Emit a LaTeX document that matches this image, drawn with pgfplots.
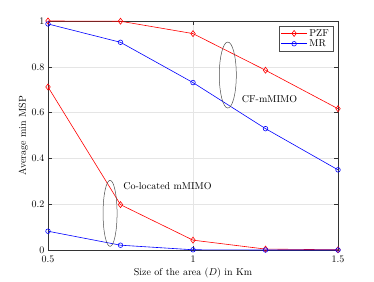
\documentclass[border=0pt]{standalone}
\usepackage{pgfplots}
\pgfplotsset{compat=1.18}
\begin{document}
\begin{tikzpicture}
\path[use as bounding box] (-48pt,-31pt) rectangle (326pt,250pt);
\begin{axis}[
  scale only axis,
  width=290pt, height=229pt,
  xmin=0.5, xmax=1.5, ymin=0, ymax=1,
  xtick={0.5,1,1.5}, xticklabels={0.5,1,1.5},
  ytick={0,0.2,0.4,0.6,0.8,1}, yticklabels={0,0.2,0.4,0.6,0.8,1},
  grid=major,
  major grid style={gray!20, line width=0.4pt},
  axis line style={black!80, line width=0.4pt},
  tick style={black!80},
  tick align=inside,
  xticklabel style={yshift=-2pt},
  xlabel={Size of the area ($D$) in Km},
  ylabel={Average min MSP},
  xlabel style={yshift=1pt},
  ylabel style={yshift=-3pt},
  legend style={at={(0.983,0.98)}, anchor=north east, font=\normalsize, draw=black!70, line width=0.4pt, inner xsep=2pt, inner ysep=1.5pt, row sep=-2pt},
  legend image code/.code={
    \draw[mark repeat=2,mark phase=2] plot coordinates {(0cm,0cm) (13pt,0cm) (26pt,0cm)};
  },
  legend cell align=left,
]
\addplot[red, line width=0.6pt, mark=diamond, mark size=3pt, mark options={solid}] coordinates {(0.5,1) (0.75,0.999) (1,0.945) (1.25,0.785) (1.5,0.617)};
\addlegendentry{PZF}
\addplot[blue, line width=0.6pt, mark=o, mark size=2.3pt] coordinates {(0.5,0.987) (0.75,0.907) (1,0.731) (1.25,0.530) (1.5,0.350)};
\addlegendentry{MR}
\addplot[red, line width=0.6pt, mark=diamond, mark size=3pt, forget plot] coordinates {(0.5,0.712) (0.75,0.198) (1,0.043) (1.25,0.004) (1.5,0.001)};
\addplot[blue, line width=0.6pt, mark=o, mark size=2.3pt, forget plot] coordinates {(0.5,0.082) (0.75,0.021) (1,0.001) (1.25,0.0) (1.5,0.0)};
\draw[black!70, line width=0.5pt] (axis cs:1.12,0.764) ellipse [x radius=8.5pt, y radius=33pt];
\draw[black!70, line width=0.5pt] (axis cs:0.714,0.16) ellipse [x radius=7pt, y radius=33pt];
\node[anchor=west, inner sep=0pt] at (axis cs:1.168,0.66) {CF-mMIMO};
\node[anchor=west, inner sep=0pt] at (axis cs:0.759,0.28) {Co-located mMIMO};
\end{axis}
\end{tikzpicture}
\end{document}
